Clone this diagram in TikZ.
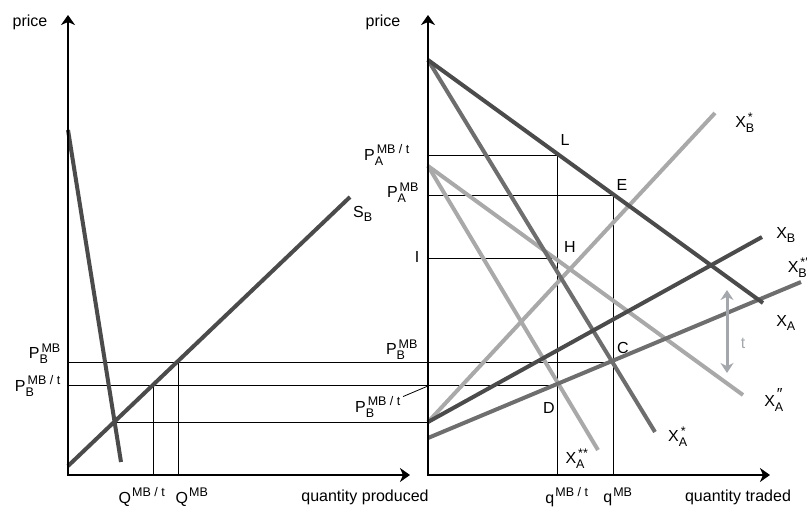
\documentclass[tikz,border=0pt]{standalone}
\usepackage{amsmath}
\usepackage{fontspec}
\setmainfont{Liberation Sans}
\usetikzlibrary{arrows.meta}
\DeclareMathSizes{16}{16}{12.5}{10}
\definecolor{dkline}{HTML}{4B4B4B}
\definecolor{mdline}{HTML}{6E6E6E}
\definecolor{ltline}{HTML}{A9A9A9}
\definecolor{tgray}{HTML}{A4A8AC}
\newcommand{\ix}[3]{$\text{#1}_{\text{#2}}^{\hspace{2pt}\text{#3}}$}
\newcommand{\sx}[2]{$\text{#1}^{\hspace{1pt}\text{#2}}$}

\begin{document}
\begin{tikzpicture}[x=1pt, y=-1pt,
  axis/.style={line width=1.8pt, -{Stealth[length=10pt, width=14pt, inset=3pt]}},
  guide/.style={line width=0.8pt},
  curve/.style={line width=4pt},
  lbl/.style={font=\fontsize{16}{18}\selectfont, inner sep=0pt}]

\useasboundingbox (0,0) rectangle (807,508);

% key points
\coordinate (O1) at (68,475);
\coordinate (O2) at (428,475);
\coordinate (L) at (557,155);
\coordinate (E) at (613,195);
\coordinate (C) at (613,362);
\coordinate (D) at (557,385);
\coordinate (K) at (114,422);
\coordinate (PBt) at (428,386);

% guide lines
\draw[guide] (68,362) -- (C);
\draw[guide] (68,385) -- (D);
\draw[guide] (K) -- (428,422);
\draw[guide] (153,385) -- (153,475);
\draw[guide] (178,362) -- (178,475);
\draw[guide] (428,155) -- (L) -- (557,475);
\draw[guide] (428,195) -- (E) -- (613,475);
\draw[guide] (428,258) -- (557,258);

% left panel curves
\draw[curve, dkline] (68,130) -- (121,462);
\draw[curve, dkline] (68,466) -- (350,197);

% right panel curves
\draw[curve, ltline] (428,166) -- (743,395);
\draw[curve, ltline] (428,166) -- (598,450);
\draw[curve, ltline] (428,422) -- (715,113);
\draw[curve, mdline] (428,60) -- (655,432);
\draw[curve, mdline] (428,438) -- (801,282);
\draw[curve, dkline] (428,60) -- (763,303);
\draw[curve, dkline] (428,422) -- (762,237);

% tax arrow
\draw[tgray, line width=3pt, {Stealth[length=10pt, width=13pt]}-{Stealth[length=10pt, width=13pt]}] (727,290) -- (727,373);

% axes
\draw[axis] (O1) -- (68,15);
\draw[axis] ([xshift=-0.9pt]O1) -- (410,475);
\draw[axis] (O2) -- (428,15);
\draw[axis] ([xshift=-0.9pt]O2) -- (770,475);

% left labels
\node[lbl] (pricel) at (30,22) {price};
\node[lbl] (sb) at (363,214) {\ix{S}{B}{}};
\node[lbl, anchor=east] (pbmbl) at (61,354) {\ix{P}{B}{MB}};
\node[lbl, anchor=east] (pbtl) at (61,386) {\ix{P}{B}{MB / t}};
\node[lbl] (qmbt) at (142,497) {\sx{Q}{MB / t}};
\node[lbl] (qmb) at (192,497) {\sx{Q}{MB}};
\node[lbl] (qprod) at (365,497) {quantity produced};

% right labels
\node[lbl] (pricer) at (383,22) {price};
\node[lbl] (pamt) at (387,155) {\ix{P}{A}{MB / t}};
\node[lbl] (pamb) at (403,193) {\ix{P}{A}{MB}};
\node[lbl] (ilab) at (417,257) {I};
\node[lbl] (pbmbr) at (402,350) {\ix{P}{B}{MB}};
\node[lbl] (pbtr) at (378,407) {\ix{P}{B}{MB / t}};
\draw[guide] ([xshift=2pt]pbtr.north east) -- (PBt);
\node[lbl] (Llab) at (565,140) {L};
\node[lbl] (Elab) at (622,185) {E};
\node[lbl] (Hlab) at (570,247) {H};
\node[lbl] (Clab) at (623,348) {C};
\node[lbl] (Dlab) at (549,408) {D};
\node[lbl] (xbs) at (745,123) {\ix{X}{B}{*}};
\node[lbl] (xb) at (786,235) {\ix{X}{B}{}};
\node[lbl] (xbsp) at (798,268) {\ix{X}{B}{*′}};
\node[lbl] (xa) at (786,323) {\ix{X}{A}{}};
\node[lbl] (xapp) at (774,400) {\ix{X}{A}{\fontsize{16}{16}\selectfont ″}};
\node[lbl] (xas) at (678,437) {\ix{X}{A}{*}};
\node[lbl] (xass) at (577,459) {\ix{X}{A}{**}};
\node[lbl, text=tgray] (tlab) at (743,343) {t};
\node[lbl] (qsmt) at (567,497) {\sx{q}{MB / t}};
\node[lbl] (qsm) at (618,497) {\sx{q}{MB}};
\node[lbl] (qtrade) at (738,497) {quantity traded};

\end{tikzpicture}
\end{document}
